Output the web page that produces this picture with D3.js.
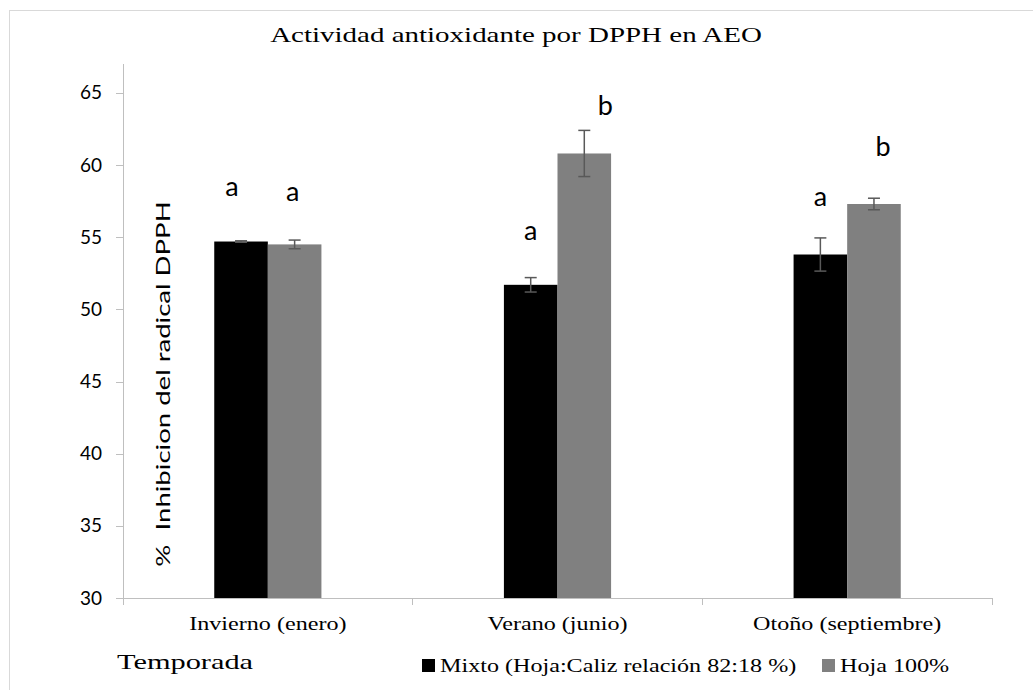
<!DOCTYPE html>
<html>
  <head>
    <meta charset="utf-8">
    <script src="https://cdn.jsdelivr.net/npm/d3@7"></script>
    <style type="text/css">
      body { margin: 0; background: #fff; }
      .axis path, .axis line { stroke: #bfbfbf; shape-rendering: crispEdges; }
      .yaxis text { font-family: Lato, "Open Sans", sans-serif; font-size: 19px; fill: #000; }
      .serif { font-family: "Liberation Serif", "Times New Roman", serif; fill: #000; }
    </style>
  </head>
  <body>
    <div class="plot_canvas"></div>
    <script>
      // data
      var seasons = ["Invierno (enero)", "Verano (junio)", "Otoño (septiembre)"];
      var seriesNames = ["Mixto (Hoja:Caliz relación 82:18 %)", "Hoja 100%"];
      var mixto = [54.7, 51.7, 53.8];
      var mixtoErr = [0.05, 0.5, 1.15];
      var hoja = [54.5, 60.8, 57.3];
      var hojaErr = [0.3, 1.6, 0.4];
      var mixtoLetters = ["a", "a", "a"];
      var hojaLetters = ["a", "b", "b"];
      // where the letters sit, in axis units
      var mixtoLetterY = [58.4, 55.4, 57.7];
      var hojaLetterY = [58.1, 64.0, 61.2];
      var yTicks = [30, 35, 40, 45, 50, 55, 60, 65];

      var width = 1033, height = 690;
      var margin = {top: 64, right: 41, bottom: 92, left: 123};
      var colors = ["#000000", "#808080"];
      var sx = 1.27; // the original text is stretched sideways

      var svg = d3.select(".plot_canvas").append("svg")
        .attr("width", width)
        .attr("height", height);

      // chart border
      svg.append("rect")
        .attr("x", 9.5).attr("y", 10.5)
        .attr("width", width + 20).attr("height", height + 20)
        .attr("fill", "none")
        .attr("stroke", "#d9d9d9");

      var xScale = d3.scaleBand()
        .domain(seasons)
        .range([margin.left, width - margin.right]);

      var yScale = d3.scaleLinear()
        .domain([30, 67])
        .range([height - margin.bottom, margin.top]);

      var barW = xScale.bandwidth() * 0.185;

      var rows = seasons.map(function(s, i) {
        return [
          {season: s, k: 0, v: mixto[i], e: mixtoErr[i], l: mixtoLetters[i], ly: mixtoLetterY[i]},
          {season: s, k: 1, v: hoja[i], e: hojaErr[i], l: hojaLetters[i], ly: hojaLetterY[i]}
        ];
      });
      var flat = d3.merge(rows);
      var letterDx = [-9, -2, 0, 21, 0, 9];

      function barX(d) {
        return xScale(d.season) + xScale.bandwidth() / 2 + (d.k - 1) * barW;
      }

      // y axis
      var yAxis = d3.axisLeft(yScale).tickValues(yTicks).tickSize(7).tickPadding(14);
      var gy = svg.append("g")
        .attr("class", "axis yaxis")
        .attr("transform", "translate(" + margin.left + ",0)")
        .call(yAxis);
      gy.select(".domain").attr("d", "M0," + yScale(30) + "V" + yScale(67));

      // bars
      svg.append("g").selectAll("rect")
        .data(flat).enter()
        .append("rect")
        .attr("x", barX)
        .attr("y", function(d) { return yScale(d.v); })
        .attr("width", barW)
        .attr("height", function(d) { return yScale(30) - yScale(d.v); })
        .attr("fill", function(d) { return colors[d.k]; });

      // x axis
      var gx = svg.append("g")
        .attr("class", "axis xaxis")
        .attr("transform", "translate(0," + yScale(30) + ")");
      gx.append("line")
        .attr("x1", margin.left - 7).attr("x2", width - margin.right)
        .attr("y1", 0).attr("y2", 0);
      var bounds = seasons.map(function(s) { return xScale(s); }).concat([width - margin.right]);
      gx.selectAll(".tk")
        .data(bounds).enter()
        .append("line")
        .attr("x1", function(d) { return d; }).attr("x2", function(d) { return d; })
        .attr("y1", 0).attr("y2", 7);
      gx.selectAll("text")
        .data(seasons).enter()
        .append("text")
        .attr("class", "serif")
        .attr("transform", function(d) {
          return "translate(" + (xScale(d) + xScale.bandwidth() / 2) + ",32) scale(" + sx + ",1)";
        })
        .attr("text-anchor", "middle")
        .attr("font-size", "19px")
        .text(function(d) { return d; });

      // error bars
      var eb = svg.append("g")
        .attr("stroke", "#595959")
        .attr("stroke-width", 1.5);
      flat.forEach(function(d) {
        var cx = barX(d) + barW / 2;
        var t = yScale(d.v + d.e), b = yScale(d.v - d.e);
        eb.append("line").attr("x1", cx).attr("x2", cx).attr("y1", t).attr("y2", b);
        eb.append("line").attr("x1", cx - 6).attr("x2", cx + 6).attr("y1", t).attr("y2", t);
        eb.append("line").attr("x1", cx - 6).attr("x2", cx + 6).attr("y1", b).attr("y2", b);
      });

      // significance letters
      svg.append("g").selectAll("text")
        .data(flat).enter()
        .append("text")
        .attr("x", function(d, i) { return barX(d) + barW / 2 + letterDx[i]; })
        .attr("y", function(d) { return yScale(d.ly); })
        .attr("dy", "0.3em")
        .attr("text-anchor", "middle")
        .attr("font-family", "Lato, 'Open Sans', sans-serif")
        .attr("font-size", "27px")
        .text(function(d) { return d.l; });

      // title
      svg.append("text")
        .attr("class", "serif")
        .attr("transform", "translate(516,42) scale(1.38,1)")
        .attr("text-anchor", "middle")
        .attr("font-size", "21px")
        .text("Actividad antioxidante por DPPH en AEO");

      // y label (sits inside the plot, as in the original)
      svg.append("text")
        .attr("transform", "translate(170,384) rotate(-90) scale(1.45,1)")
        .attr("text-anchor", "middle")
        .attr("font-family", "Lato, 'Open Sans', sans-serif")
        .attr("font-size", "19px")
        .attr("xml:space", "preserve")
        .style("white-space", "pre")
        .text("%  Inhibicion del radical DPPH");

      // x label
      svg.append("text")
        .attr("class", "serif")
        .attr("transform", "translate(117,669) scale(1.38,1)")
        .attr("font-size", "22px")
        .text("Temporada");

      // legend
      var leg = svg.append("g").attr("transform", "translate(0,672)");
      var legX = [422, 822];
      seriesNames.forEach(function(n, i) {
        leg.append("rect")
          .attr("x", legX[i]).attr("y", -13)
          .attr("width", 13).attr("height", 13)
          .attr("fill", colors[i]);
        leg.append("text")
          .attr("class", "serif")
          .attr("transform", "translate(" + (legX[i] + 18) + ",0) scale(" + sx + ",1)")
          .attr("font-size", "19px")
          .text(n);
      });
    </script>
  </body>
</html>
